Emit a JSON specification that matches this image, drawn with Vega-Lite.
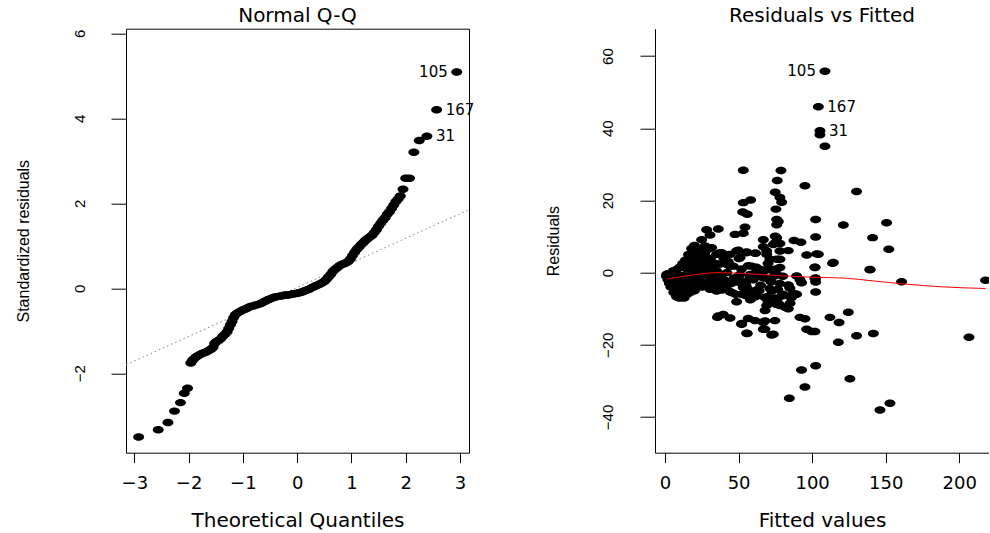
{
  "$schema": "https://vega.github.io/schema/vega-lite/v6.json",
  "background": "#ffffff",
  "padding": {"left": 15, "top": 4.7, "right": 0, "bottom": 0},
  "spacing": 71,
  "config": {
    "view": {"stroke": null},
    "axis": {"grid": false, "domain": false, "tickColor": "#000", "tickWidth": 1, "labelColor": "#000", "titleColor": "#000", "titleFontWeight": "normal", "labelFont": "DejaVu Sans", "titleFont": "DejaVu Sans", "labelOverlap": false, "labelFlush": false},
    "title": {"font": "DejaVu Sans", "fontSize": 20, "fontWeight": "normal", "color": "#000", "baseline": "alphabetic", "offset": 3, "anchor": "middle"}
  },
  "datasets": {
    "qq": [
      {"theo": -2.92, "std": -3.50}, {"theo": -2.56, "std": -3.33}, {"theo": -2.38, "std": -3.16}, {"theo": -2.26, "std": -2.89}, {"theo": -2.15, "std": -2.69}, {"theo": -2.08, "std": -2.47}, {"theo": -2.02, "std": -2.35},
      {"theo": -1.96, "std": -1.76}, {"theo": -1.93, "std": -1.70}, {"theo": -1.90, "std": -1.66}, {"theo": -1.86, "std": -1.61}, {"theo": -1.82, "std": -1.58}, {"theo": -1.78, "std": -1.55}, {"theo": -1.74, "std": -1.53}, {"theo": -1.70, "std": -1.51}, {"theo": -1.66, "std": -1.49}, {"theo": -1.62, "std": -1.46}, {"theo": -1.58, "std": -1.43}, {"theo": -1.55, "std": -1.39}, {"theo": -1.52, "std": -1.30}, {"theo": -1.49, "std": -1.26}, {"theo": -1.45, "std": -1.23}, {"theo": -1.41, "std": -1.19}, {"theo": -1.37, "std": -1.13}, {"theo": -1.33, "std": -1.08}, {"theo": -1.29, "std": -1.02}, {"theo": -1.26, "std": -0.94}, {"theo": -1.23, "std": -0.86}, {"theo": -1.20, "std": -0.78}, {"theo": -1.17, "std": -0.69}, {"theo": -1.14, "std": -0.62}, {"theo": -1.10, "std": -0.58}, {"theo": -1.06, "std": -0.55}, {"theo": -1.02, "std": -0.52}, {"theo": -0.98, "std": -0.50}, {"theo": -0.94, "std": -0.48}, {"theo": -0.90, "std": -0.45}, {"theo": -0.86, "std": -0.43}, {"theo": -0.82, "std": -0.42}, {"theo": -0.78, "std": -0.40}, {"theo": -0.74, "std": -0.39}, {"theo": -0.70, "std": -0.37}, {"theo": -0.66, "std": -0.35}, {"theo": -0.62, "std": -0.32}, {"theo": -0.58, "std": -0.30}, {"theo": -0.54, "std": -0.27}, {"theo": -0.50, "std": -0.25}, {"theo": -0.46, "std": -0.23}, {"theo": -0.42, "std": -0.21}, {"theo": -0.38, "std": -0.20}, {"theo": -0.34, "std": -0.19}, {"theo": -0.30, "std": -0.18}, {"theo": -0.26, "std": -0.17}, {"theo": -0.22, "std": -0.16}, {"theo": -0.18, "std": -0.16}, {"theo": -0.14, "std": -0.15}, {"theo": -0.10, "std": -0.14}, {"theo": -0.06, "std": -0.13}, {"theo": -0.02, "std": -0.12}, {"theo": 0.02, "std": -0.11}, {"theo": 0.06, "std": -0.10}, {"theo": 0.10, "std": -0.08}, {"theo": 0.14, "std": -0.06}, {"theo": 0.18, "std": -0.04}, {"theo": 0.22, "std": -0.02}, {"theo": 0.26, "std": 0.01}, {"theo": 0.30, "std": 0.03}, {"theo": 0.34, "std": 0.06}, {"theo": 0.38, "std": 0.08}, {"theo": 0.42, "std": 0.10}, {"theo": 0.46, "std": 0.13}, {"theo": 0.50, "std": 0.16}, {"theo": 0.54, "std": 0.21}, {"theo": 0.58, "std": 0.27}, {"theo": 0.62, "std": 0.33}, {"theo": 0.66, "std": 0.40}, {"theo": 0.70, "std": 0.45}, {"theo": 0.74, "std": 0.49}, {"theo": 0.78, "std": 0.53}, {"theo": 0.82, "std": 0.56}, {"theo": 0.86, "std": 0.58}, {"theo": 0.90, "std": 0.60}, {"theo": 0.94, "std": 0.63}, {"theo": 0.98, "std": 0.69}, {"theo": 1.02, "std": 0.77}, {"theo": 1.06, "std": 0.85}, {"theo": 1.10, "std": 0.92}, {"theo": 1.14, "std": 0.97}, {"theo": 1.18, "std": 1.03}, {"theo": 1.22, "std": 1.08}, {"theo": 1.26, "std": 1.13}, {"theo": 1.30, "std": 1.17}, {"theo": 1.34, "std": 1.21}, {"theo": 1.38, "std": 1.25}, {"theo": 1.42, "std": 1.31}, {"theo": 1.46, "std": 1.38}, {"theo": 1.50, "std": 1.46}, {"theo": 1.54, "std": 1.53}, {"theo": 1.58, "std": 1.60}, {"theo": 1.62, "std": 1.66}, {"theo": 1.66, "std": 1.74}, {"theo": 1.70, "std": 1.80}, {"theo": 1.74, "std": 1.88}, {"theo": 1.78, "std": 1.96}, {"theo": 1.82, "std": 2.04}, {"theo": 1.86, "std": 2.10}, {"theo": 1.90, "std": 2.17}, {"theo": 1.95, "std": 2.33}, {"theo": 2.00, "std": 2.59}, {"theo": 2.07, "std": 2.59}, {"theo": 2.15, "std": 3.20}, {"theo": 2.25, "std": 3.48},
      {"theo": 2.39, "std": 3.58, "id": "31"}, {"theo": 2.57, "std": 4.20, "id": "167"}, {"theo": 2.94, "std": 5.09, "id": "105"}
    ],
    "qqline": [{"theo": -3.153, "std": -1.80}, {"theo": 3.166, "std": 1.85}],
    "rf": [
      {"fitted": 108.7, "resid": 55.8, "id": "105"}, {"fitted": 104.2, "resid": 46.0, "id": "167"}, {"fitted": 105.3, "resid": 39.3, "id": "31"},
      {"fitted": 105.3, "resid": 38.2}, {"fitted": 108.7, "resid": 35.0}, {"fitted": 53.2, "resid": 28.4}, {"fitted": 78.8, "resid": 28.3}, {"fitted": 76.3, "resid": 25.5}, {"fitted": 95.1, "resid": 24.1}, {"fitted": 130.2, "resid": 22.5}, {"fitted": 74.9, "resid": 22.3}, {"fitted": 78.1, "resid": 20.8}, {"fitted": 79.3, "resid": 19.5}, {"fitted": 58.2, "resid": 20.1}, {"fitted": 53.2, "resid": 19.4}, {"fitted": 52.8, "resid": 16.8}, {"fitted": 55.9, "resid": 16.2}, {"fitted": 75.4, "resid": 17.6}, {"fitted": 102.4, "resid": 14.7}, {"fitted": 150.6, "resid": 13.8}, {"fitted": 121.2, "resid": 13.2}, {"fitted": 75.9, "resid": 14.7}, {"fitted": 75.9, "resid": 13.3}, {"fitted": 77.0, "resid": 14.2}, {"fitted": 28.3, "resid": 11.9}, {"fitted": 36.2, "resid": 12.1}, {"fitted": 54.4, "resid": 12.6}, {"fitted": 30.6, "resid": 10.4}, {"fitted": 47.6, "resid": 10.6}, {"fitted": 53.2, "resid": 10.9}, {"fitted": 24.9, "resid": 9.1}, {"fitted": 66.8, "resid": 9.1}, {"fitted": 74.9, "resid": 10.1}, {"fitted": 141.1, "resid": 9.7}, {"fitted": 102.4, "resid": 9.9}, {"fitted": 87.7, "resid": 8.9}, {"fitted": 92.4, "resid": 8.4}, {"fitted": 152.1, "resid": 6.5}, {"fitted": 18.1, "resid": 6.7}, {"fitted": 23.8, "resid": 5.7}, {"fitted": 29.4, "resid": 6.5}, {"fitted": 49.8, "resid": 6.2}, {"fitted": 55.5, "resid": 5.7}, {"fitted": 61.6, "resid": 5.4}, {"fitted": 66.8, "resid": 7.2}, {"fitted": 69.1, "resid": 6.0}, {"fitted": 74.7, "resid": 8.2}, {"fitted": 78.1, "resid": 8.1}, {"fitted": 83.8, "resid": 6.1}, {"fitted": 37.4, "resid": 5.5}, {"fitted": 39.2, "resid": 4.8}, {"fitted": 50.3, "resid": 3.9}, {"fitted": 96.3, "resid": 4.9}, {"fitted": 103.1, "resid": 5.2}, {"fitted": 71.3, "resid": 3.7}, {"fitted": 78.1, "resid": 3.7}, {"fitted": 14.7, "resid": 2.7}, {"fitted": 19.3, "resid": 3.7}, {"fitted": 26.0, "resid": 4.1}, {"fitted": 30.6, "resid": 2.7}, {"fitted": 113.9, "resid": 2.6}, {"fitted": 101.9, "resid": 1.5}, {"fitted": 139.3, "resid": 0.8}, {"fitted": 56.6, "resid": 1.9}, {"fitted": 62.3, "resid": 0.8}, {"fitted": 66.8, "resid": 0.3}, {"fitted": 71.3, "resid": 0.8}, {"fitted": 74.7, "resid": 0.3}, {"fitted": 37.4, "resid": 2.4}, {"fitted": 44.2, "resid": 1.8}, {"fitted": 160.8, "resid": -2.5}, {"fitted": 217.9, "resid": -2.1}, {"fitted": 102.4, "resid": -1.5}, {"fitted": 102.4, "resid": -2.6}, {"fitted": 91.7, "resid": -2.0}, {"fitted": 92.8, "resid": -2.8}, {"fitted": 83.8, "resid": -3.4}, {"fitted": 84.9, "resid": -4.3}, {"fitted": 87.2, "resid": -5.8}, {"fitted": 84.9, "resid": -6.7}, {"fitted": 80.4, "resid": -6.2}, {"fitted": 102.4, "resid": -5.4}, {"fitted": 89.4, "resid": -6.0}, {"fitted": 76.6, "resid": -4.7}, {"fitted": 75.9, "resid": -7.2}, {"fitted": 71.3, "resid": -4.4}, {"fitted": 69.1, "resid": -6.7}, {"fitted": 62.3, "resid": -4.8}, {"fitted": 61.2, "resid": -6.7}, {"fitted": 55.9, "resid": -4.4}, {"fitted": 54.4, "resid": -6.3}, {"fitted": 48.7, "resid": -8.1}, {"fitted": 44.2, "resid": -5.3}, {"fitted": 38.5, "resid": -4.8}, {"fitted": 34.0, "resid": -3.9}, {"fitted": 28.3, "resid": -2.9}, {"fitted": 69.1, "resid": -9.1}, {"fitted": 68.0, "resid": -10.5}, {"fitted": 78.1, "resid": -9.1}, {"fitted": 81.5, "resid": -9.5}, {"fitted": 83.8, "resid": -10.0}, {"fitted": 74.7, "resid": -13.3}, {"fitted": 35.6, "resid": -12.4}, {"fitted": 39.6, "resid": -11.6}, {"fitted": 44.2, "resid": -12.6}, {"fitted": 56.6, "resid": -12.7}, {"fitted": 61.2, "resid": -13.3}, {"fitted": 66.8, "resid": -13.8}, {"fitted": 52.1, "resid": -14.3}, {"fitted": 66.8, "resid": -15.7}, {"fitted": 55.9, "resid": -16.9}, {"fitted": 72.5, "resid": -17.3}, {"fitted": 91.7, "resid": -12.4}, {"fitted": 95.1, "resid": -12.8}, {"fitted": 96.3, "resid": -15.7}, {"fitted": 99.7, "resid": -16.3}, {"fitted": 101.9, "resid": -16.3}, {"fitted": 112.1, "resid": -12.4}, {"fitted": 124.6, "resid": -11.0}, {"fitted": 118.3, "resid": -13.8}, {"fitted": 117.8, "resid": -19.3}, {"fitted": 130.2, "resid": -17.5}, {"fitted": 141.6, "resid": -16.9}, {"fitted": 206.6, "resid": -17.9}, {"fitted": 92.8, "resid": -27.0}, {"fitted": 102.4, "resid": -25.8}, {"fitted": 95.1, "resid": -31.7}, {"fitted": 125.7, "resid": -29.4}, {"fitted": 84.5, "resid": -34.8}, {"fitted": 146.1, "resid": -38.1}, {"fitted": 152.9, "resid": -36.2},
      {"fitted": 1.1, "resid": -0.5}, {"fitted": 3.4, "resid": -1.8}, {"fitted": 4.5, "resid": -3.2}, {"fitted": 5.7, "resid": -4.1}, {"fitted": 6.8, "resid": -5.1}, {"fitted": 7.9, "resid": -6.7}, {"fitted": 9.1, "resid": -6.0}, {"fitted": 10.2, "resid": -4.6}, {"fitted": 12.5, "resid": -3.7}, {"fitted": 14.7, "resid": -2.3}, {"fitted": 17.0, "resid": -0.9}, {"fitted": 18.1, "resid": 0.5}, {"fitted": 13.6, "resid": 1.4}, {"fitted": 7.9, "resid": 0.9}, {"fitted": 5.7, "resid": 0.5}, {"fitted": 19.3, "resid": 2.3}, {"fitted": 22.6, "resid": 3.2}, {"fitted": 17.0, "resid": 4.2}, {"fitted": 20.4, "resid": 5.1}, {"fitted": 23.8, "resid": 6.0}, {"fitted": 27.2, "resid": 7.4}, {"fitted": 31.7, "resid": 6.9}, {"fitted": 35.1, "resid": 5.1}, {"fitted": 38.5, "resid": 5.5}, {"fitted": 29.4, "resid": 2.8}, {"fitted": 32.3, "resid": 1.8}, {"fitted": 41.9, "resid": 2.3}, {"fitted": 46.4, "resid": 1.8}, {"fitted": 28.3, "resid": -0.5}, {"fitted": 31.7, "resid": -1.8}, {"fitted": 35.1, "resid": -2.8}, {"fitted": 38.5, "resid": -3.7}, {"fitted": 41.9, "resid": -4.6}, {"fitted": 45.3, "resid": -5.5}, {"fitted": 23.8, "resid": -1.4}, {"fitted": 21.5, "resid": -3.2}, {"fitted": 18.1, "resid": -4.2}, {"fitted": 11.3, "resid": -5.5}, {"fitted": 9.1, "resid": -6.9}, {"fitted": 30.6, "resid": -4.6}, {"fitted": 35.1, "resid": -5.1}, {"fitted": 51.0, "resid": -2.8}, {"fitted": 53.2, "resid": -4.1}, {"fitted": 55.5, "resid": -2.3}, {"fitted": 51.0, "resid": -0.5}, {"fitted": 57.8, "resid": -0.5}, {"fitted": 62.3, "resid": -0.9}, {"fitted": 66.8, "resid": -1.4}, {"fitted": 71.3, "resid": -1.8}, {"fitted": 75.9, "resid": -0.5}, {"fitted": 48.7, "resid": 6.0}, {"fitted": 51.0, "resid": 4.2}, {"fitted": 55.5, "resid": 5.5}, {"fitted": 61.2, "resid": 5.4}, {"fitted": 73.6, "resid": 7.8}, {"fitted": 75.9, "resid": 9.7}, {"fitted": 78.1, "resid": 6.0}, {"fitted": 69.1, "resid": 5.1}, {"fitted": 75.9, "resid": 3.7}, {"fitted": 58.9, "resid": 1.8}, {"fitted": 64.6, "resid": 0.9}, {"fitted": 69.1, "resid": 0.9}, {"fitted": 73.6, "resid": 0.9}, {"fitted": 78.1, "resid": 1.4}, {"fitted": 89.5, "resid": -0.9}, {"fitted": 79.4, "resid": -6.5}, {"fitted": 72.5, "resid": -5.1}, {"fitted": 67.9, "resid": -6.9}, {"fitted": 62.3, "resid": -6.5}, {"fitted": 56.6, "resid": -5.5}, {"fitted": 52.1, "resid": -6.0}, {"fitted": 82.7, "resid": -9.7}, {"fitted": 75.9, "resid": -8.8}, {"fitted": 88.3, "resid": -6.0}, {"fitted": 86.0, "resid": -6.9}, {"fitted": 36.2, "resid": -12.0}, {"fitted": 52.1, "resid": -14.1}, {"fitted": 67.9, "resid": -13.4}, {"fitted": 55.5, "resid": -16.8}, {"fitted": 67.9, "resid": -15.7}, {"fitted": 73.6, "resid": -17.1}, {"fitted": 101.9, "resid": -1.6}, {"fitted": 101.9, "resid": 1.4}, {"fitted": 104.2, "resid": 5.1}, {"fitted": 114.4, "resid": 2.8}, {"fitted": 139.3, "resid": 0.9},
      {"fitted": 2, "resid": -0.3}, {"fitted": 3, "resid": -1.0}, {"fitted": 4, "resid": -2.0}, {"fitted": 5, "resid": -0.5}, {"fitted": 6, "resid": -2.8}, {"fitted": 7, "resid": -3.5}, {"fitted": 8, "resid": -1.2}, {"fitted": 9, "resid": -4.5}, {"fitted": 10, "resid": -2.5}, {"fitted": 11, "resid": -6.0}, {"fitted": 12, "resid": -0.8}, {"fitted": 13, "resid": -3.0}, {"fitted": 14, "resid": -5.0}, {"fitted": 15, "resid": 1.0}, {"fitted": 16, "resid": -2.0}, {"fitted": 17, "resid": -3.8}, {"fitted": 18, "resid": 2.0}, {"fitted": 19, "resid": -1.0}, {"fitted": 20, "resid": -5.0}, {"fitted": 21, "resid": 3.0}, {"fitted": 22, "resid": 0.5}, {"fitted": 23, "resid": -2.5}, {"fitted": 24, "resid": 4.5}, {"fitted": 25, "resid": 1.5}, {"fitted": 26, "resid": -0.5}, {"fitted": 27, "resid": 5.5}, {"fitted": 28, "resid": 3.0}, {"fitted": 29, "resid": -3.0}, {"fitted": 30, "resid": 0.0}, {"fitted": 31, "resid": 4.0}, {"fitted": 33, "resid": -1.0}, {"fitted": 34, "resid": 2.5}, {"fitted": 36, "resid": -3.0}, {"fitted": 10, "resid": 1.5}, {"fitted": 12, "resid": 2.5}, {"fitted": 14, "resid": 3.5}, {"fitted": 16, "resid": 5.0}, {"fitted": 20, "resid": 7.5}, {"fitted": 22, "resid": 6.5}, {"fitted": 6, "resid": -5.5}, {"fitted": 8, "resid": -6.5}, {"fitted": 10, "resid": -7.0}, {"fitted": 12, "resid": -5.5}, {"fitted": 13, "resid": -7.0}, {"fitted": 15, "resid": -6.0}, {"fitted": 4, "resid": -4.0}, {"fitted": 3, "resid": -3.0}, {"fitted": 1, "resid": -1.0}, {"fitted": 2, "resid": -2.0}, {"fitted": 5, "resid": -1.5}, {"fitted": 7, "resid": -0.5}, {"fitted": 9, "resid": -1.8}, {"fitted": 11, "resid": -3.3}, {"fitted": 13, "resid": -1.5}, {"fitted": 15, "resid": -3.0}, {"fitted": 17, "resid": -5.5}, {"fitted": 19, "resid": -4.0}, {"fitted": 21, "resid": -2.0}, {"fitted": 23, "resid": 1.0}, {"fitted": 25, "resid": -4.0}, {"fitted": 27, "resid": 2.0}, {"fitted": 29, "resid": 1.0}, {"fitted": 31, "resid": -2.0}, {"fitted": 35, "resid": 0.5}, {"fitted": 38, "resid": -1.0}, {"fitted": 40, "resid": -2.0}, {"fitted": 42, "resid": 0.0}, {"fitted": 45, "resid": -3.0}, {"fitted": 43, "resid": 3.0}, {"fitted": 47, "resid": -1.5}, {"fitted": 50, "resid": -1.0}, {"fitted": 52, "resid": 1.0}, {"fitted": 55, "resid": -3.5}, {"fitted": 58, "resid": -1.0}, {"fitted": 60, "resid": -2.0}, {"fitted": 62, "resid": 1.5}, {"fitted": 65, "resid": -3.5}, {"fitted": 68, "resid": -1.5}, {"fitted": 70, "resid": 2.5}, {"fitted": 72, "resid": -2.5}, {"fitted": 74, "resid": -1.0}, {"fitted": 76, "resid": 1.0}, {"fitted": 78, "resid": -3.0}, {"fitted": 80, "resid": -1.0}, {"fitted": 40, "resid": 4.0}, {"fitted": 44, "resid": 5.0}, {"fitted": 48, "resid": -6.0}, {"fitted": 58, "resid": -7.5}, {"fitted": 64, "resid": -5.0}, {"fitted": 70, "resid": -8.0}, {"fitted": 74, "resid": -7.0}, {"fitted": 77, "resid": -8.5}, {"fitted": 80, "resid": -6.0}, {"fitted": 85, "resid": -8.5}
    ],
    "lowess": [
      {"fitted": 1.1, "resid": -1.8}, {"fitted": 14.7, "resid": -0.9}, {"fitted": 23.8, "resid": -0.4}, {"fitted": 35.1, "resid": 0.0}, {"fitted": 46.4, "resid": -0.1}, {"fitted": 60, "resid": -0.4}, {"fitted": 80.4, "resid": -0.9}, {"fitted": 100.8, "resid": -1.3}, {"fitted": 121.2, "resid": -1.5}, {"fitted": 141.6, "resid": -2.3}, {"fitted": 164.2, "resid": -3.2}, {"fitted": 186.9, "resid": -3.9}, {"fitted": 217.9, "resid": -4.4}
    ]
  },
  "hconcat": [
    {
      "width": 343,
      "height": 424,
      "title": {"text": "Normal Q-Q"},
      "view": {"stroke": "#000", "strokeWidth": 1},
      "layer": [
        {
          "data": {"name": "qqline"},
          "mark": {"type": "line", "color": "#808080", "strokeWidth": 1, "strokeDash": [1.5, 3]},
          "encoding": {
            "x": {"field": "theo", "type": "quantitative", "scale": {"domain": [-3.153, 3.166], "nice": false, "zero": false},
              "axis": {"title": "Theoretical Quantiles", "values": [-3, -2, -1, 0, 1, 2, 3], "format": "d", "tickSize": 10, "labelFontSize": 18, "labelPadding": 25.6, "labelBaseline": "alphabetic", "titleFontSize": 20, "titleY": 73.8, "titleBaseline": "alphabetic"}},
            "y": {"field": "std", "type": "quantitative", "scale": {"domain": [-3.868, 6.108], "nice": false, "zero": false},
              "axis": {"title": "Standardized residuals", "values": [-2, 0, 2, 4, 6], "format": "d", "tickSize": 15, "labelAngle": 270, "labelAlign": "center", "labelBaseline": "alphabetic", "labelPadding": 26.7, "labelFont": "Liberation Sans", "labelFontSize": 15, "titleFont": "Liberation Sans", "titleFontSize": 16, "titleAngle": 270, "titleX": -97.4, "titleY": 212, "titleAlign": "center", "titleBaseline": "alphabetic"}}
          }
        },
        {
          "data": {"name": "qq"},
          "mark": {"type": "point", "shape": "M-1,0A1,0.68,0,1,0,1,0A1,0.68,0,1,0,-1,0Z", "size": 121, "filled": true, "color": "#000", "opacity": 1, "strokeWidth": 0},
          "encoding": {"x": {"field": "theo", "type": "quantitative"}, "y": {"field": "std", "type": "quantitative"}}
        },
        {
          "data": {"name": "qq"},
          "transform": [{"filter": "datum.id == '105'"}],
          "mark": {"type": "text", "align": "right", "baseline": "middle", "dx": -9, "font": "DejaVu Sans", "fontSize": 15, "color": "#000"},
          "encoding": {"x": {"field": "theo", "type": "quantitative"}, "y": {"field": "std", "type": "quantitative"}, "text": {"field": "id"}}
        },
        {
          "data": {"name": "qq"},
          "transform": [{"filter": "datum.id == '167' || datum.id == '31'"}],
          "mark": {"type": "text", "align": "left", "baseline": "middle", "dx": 9, "font": "DejaVu Sans", "fontSize": 15, "color": "#000"},
          "encoding": {"x": {"field": "theo", "type": "quantitative"}, "y": {"field": "std", "type": "quantitative"}, "text": {"field": "id"}}
        }
      ]
    },
    {
      "width": 334,
      "height": 424,
      "title": {"text": "Residuals vs Fitted"},
      "layer": [
        {
          "mark": {"type": "rule", "color": "#bebebe", "strokeWidth": 1, "strokeDash": [1.5, 3]},
          "encoding": {
            "y": {"datum": 0, "type": "quantitative", "scale": {"domain": [-49.9, 67.6], "nice": false, "zero": false},
              "axis": {"title": "Residuals", "values": [-40, -20, 0, 20, 40, 60], "format": "d", "domain": true, "domainColor": "#000", "tickSize": 15, "labelAngle": 270, "labelAlign": "center", "labelBaseline": "alphabetic", "labelPadding": 27.5, "labelFont": "Liberation Sans", "labelFontSize": 15, "titleFont": "Liberation Sans", "titleFontSize": 16, "titleAngle": 270, "titleX": -96, "titleY": 212, "titleAlign": "center", "titleBaseline": "alphabetic"}}
          }
        },
        {
          "mark": {"type": "rule", "color": "#000", "strokeWidth": 1},
          "encoding": {"y": {"datum": 67.6, "type": "quantitative"}}
        },
        {
          "data": {"name": "rf"},
          "mark": {"type": "point", "shape": "M-1,0A1,0.68,0,1,0,1,0A1,0.68,0,1,0,-1,0Z", "size": 121, "filled": true, "color": "#000", "opacity": 1, "strokeWidth": 0, "clip": true},
          "encoding": {
            "x": {"field": "fitted", "type": "quantitative", "scale": {"domain": [-6.8, 220.2], "nice": false, "zero": false},
              "axis": {"title": "Fitted values", "values": [0, 50, 100, 150, 200], "format": "d", "domain": true, "domainColor": "#000", "tickSize": 10, "labelFontSize": 18, "labelPadding": 25.6, "labelBaseline": "alphabetic", "titleFontSize": 20, "titleY": 73.8, "titleBaseline": "alphabetic"}},
            "y": {"field": "resid", "type": "quantitative"}
          }
        },
        {
          "data": {"name": "lowess"},
          "mark": {"type": "line", "color": "#ff0000", "strokeWidth": 1, "interpolate": "monotone", "clip": true},
          "encoding": {"x": {"field": "fitted", "type": "quantitative"}, "y": {"field": "resid", "type": "quantitative"}}
        },
        {
          "data": {"name": "rf"},
          "transform": [{"filter": "datum.id == '105'"}],
          "mark": {"type": "text", "align": "right", "baseline": "middle", "dx": -9, "font": "DejaVu Sans", "fontSize": 15, "color": "#000"},
          "encoding": {"x": {"field": "fitted", "type": "quantitative"}, "y": {"field": "resid", "type": "quantitative"}, "text": {"field": "id"}}
        },
        {
          "data": {"name": "rf"},
          "transform": [{"filter": "datum.id == '167' || datum.id == '31'"}],
          "mark": {"type": "text", "align": "left", "baseline": "middle", "dx": 9, "font": "DejaVu Sans", "fontSize": 15, "color": "#000"},
          "encoding": {"x": {"field": "fitted", "type": "quantitative"}, "y": {"field": "resid", "type": "quantitative"}, "text": {"field": "id"}}
        }
      ]
    }
  ]
}
